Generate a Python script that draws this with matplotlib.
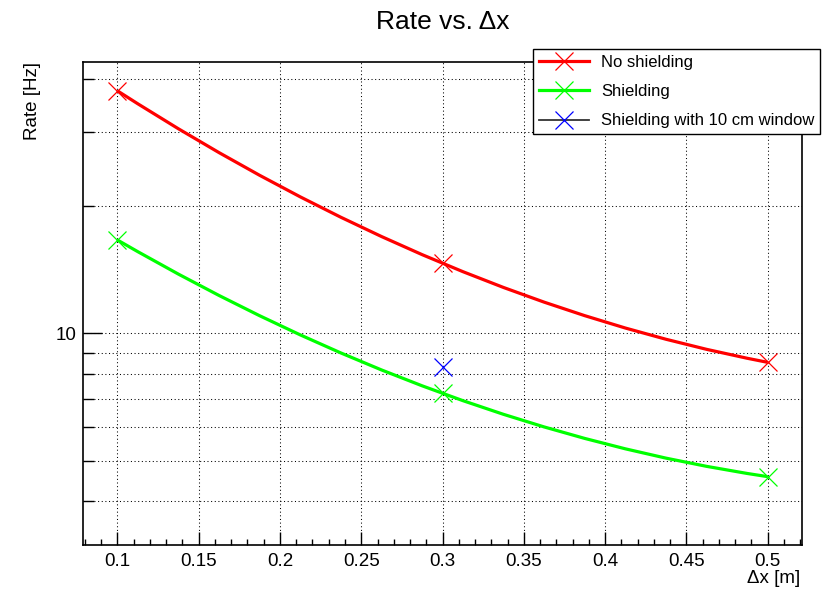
import numpy as np
import matplotlib
matplotlib.use('Agg')
import matplotlib.pyplot as plt
import matplotlib.ticker as mticker
from matplotlib.path import Path
from matplotlib.patches import PathPatch
from matplotlib.lines import Line2D

plt.rcParams['font.family'] = ['Liberation Sans', 'DejaVu Sans']

# Werte
dx = [0.1, 0.3, 0.5]
rate_no_shield = [37.5, 14.65, 8.54]
rate_shield = [16.63, 7.21, 4.58]
dx_window = [0.3]
rate_window = [8.34]

x_ticks_major = 0.05
x_ticks_minor = 0.01
y_major = [10]
y_minor = [4, 5, 6, 7, 8, 9, 20, 30, 40]


def smooth_path(x, y):
    # glatte Kurve (Parabel in log-y) als quadratische Bezier durch 3 Punkte
    ly = np.log10(y)
    ctrl = 2 * ly[1] - (ly[0] + ly[2]) / 2
    verts = [(x[0], y[0]), (x[1], 10 ** ctrl), (x[2], y[2])]
    return Path(verts, [Path.MOVETO, Path.CURVE3, Path.CURVE3])


fig = plt.figure(figsize=(8.31, 5.89), dpi=100)
ax = fig.add_axes([0.0999, 0.0747, 0.8652, 0.82])

ax.set_yscale('log')
ax.set_xlim(0.0788, 0.5212)
ax.set_ylim(3.155, 43.88)

for xs, ys, col in [(dx, rate_no_shield, '#ff0000'), (dx, rate_shield, '#00ff00')]:
    ax.add_patch(PathPatch(smooth_path(xs, ys), fill=False, edgecolor=col, lw=2.3, zorder=3))
    ax.plot(xs, ys, ls='none', marker='x', ms=13, mew=0.9, color=col, zorder=4)
ax.plot(dx_window, rate_window, ls='none', marker='x', ms=13, mew=0.9, color='#0000ff', zorder=4)

# Achsen im ROOT-Stil
ax.xaxis.set_major_locator(mticker.MultipleLocator(x_ticks_major))
ax.xaxis.set_minor_locator(mticker.MultipleLocator(x_ticks_minor))
ax.xaxis.set_major_formatter(mticker.FormatStrFormatter('%g'))
ax.yaxis.set_major_locator(mticker.FixedLocator(y_major))
ax.yaxis.set_minor_locator(mticker.FixedLocator(y_minor))
ax.yaxis.set_major_formatter(mticker.FormatStrFormatter('%g'))
ax.yaxis.set_minor_formatter(mticker.NullFormatter())

ax.tick_params(axis='both', which='both', direction='in', width=1.0, colors='black',
               labelsize=13.5, top=False, right=False)
ax.tick_params(axis='x', which='major', length=9.4, pad=6)
ax.tick_params(axis='x', which='minor', length=4.3)
ax.tick_params(axis='y', which='major', length=13.7, pad=5)
ax.tick_params(axis='y', which='minor', length=8)

for s in ax.spines.values():
    s.set_linewidth(1.2)

grid_kw = dict(color='black', lw=0.75, linestyle=(0, (1, 2.5)))
ax.grid(axis='x', which='major', **grid_kw)
ax.grid(axis='y', which='both', **grid_kw)
ax.set_axisbelow(True)

ax.set_title('Rate vs. Δx', fontsize=19, pad=24)
ax.set_xlabel('Δx [m]', fontsize=13.5, loc='right')
ax.xaxis.set_label_coords(0.997, -0.052)
ax.set_ylabel('Rate [Hz]', fontsize=13.5, loc='top')
ax.yaxis.set_label_coords(-0.058, 1.0)

handles = [
    Line2D([], [], color='#ff0000', lw=2.3, marker='x', ms=13, mew=0.9),
    Line2D([], [], color='#00ff00', lw=2.3, marker='x', ms=13, mew=0.9),
    Line2D([], [], color='#333333', lw=1.3, marker='x', ms=13, mew=0.9,
           markeredgecolor='#0000ff'),
]
labels = ['No shielding', 'Shielding', 'Shielding with 10 cm window']
leg = ax.legend(handles, labels, loc='upper left', fontsize=12,
                bbox_to_anchor=(532.7 / 831, 1 - 49.3 / 589), bbox_transform=fig.transFigure,
                borderaxespad=0, borderpad=0.35, handlelength=3, handletextpad=0.75,
                labelspacing=0.85, numpoints=1, fancybox=False, framealpha=1,
                edgecolor='black')
leg.get_frame().set_linewidth(1.0)
leg.set_zorder(10)

fig.savefig('out.png', dpi=100)
